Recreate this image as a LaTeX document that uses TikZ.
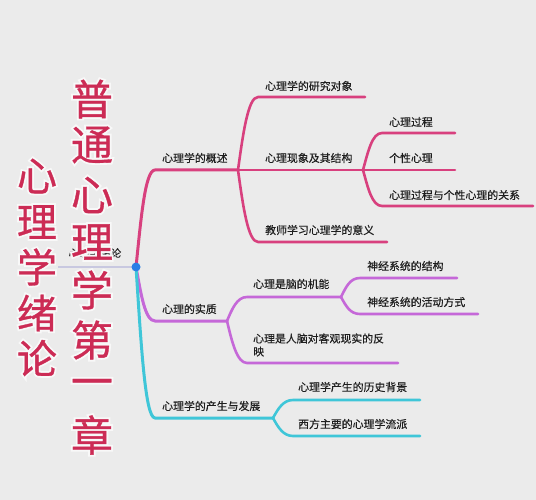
\documentclass[tikz,border=0pt]{standalone}
\usepackage{fontspec}
\setmainfont{Noto Sans CJK SC}
\newfontfamily\halofont[FakeBold=10]{Noto Sans CJK SC}
\newfontfamily\titlefont[FakeBold=0.8]{Noto Sans CJK SC}
\newfontfamily\lblfont[FakeBold=0.3]{Noto Sans CJK SC}
\definecolor{bg}{HTML}{EBEBEB}
\definecolor{halc}{HTML}{F8F8F8}
\definecolor{pinkc}{HTML}{D8407E}
\definecolor{purpc}{HTML}{C568D8}
\definecolor{cyanc}{HTML}{3FC6D8}
\definecolor{lavc}{HTML}{C8C8E0}
\definecolor{dotc}{HTML}{2A7FE6}
\definecolor{titlec}{HTML}{CC2B55}
\definecolor{txtc}{HTML}{1E1E1E}
\tikzset{
  lbl/.style={anchor=west, inner sep=0pt, text=txtc, font=\lblfont\fontsize{10.9pt}{13pt}\selectfont},
  pinkl/.style={draw=pinkc, line width=2.6pt, line cap=round, line join=round},
  purpl/.style={draw=purpc, line width=2.6pt, line cap=round, line join=round},
  cyanl/.style={draw=cyanc, line width=2.6pt, line cap=round, line join=round},
  bighalo/.style={inner sep=0pt, text=halc, font=\halofont\fontsize{#1}{#1}\selectfont},
  bigtxt/.style={inner sep=0pt, text=titlec, font=\titlefont\fontsize{#1}{#1}\selectfont},
}
\begin{document}
\begin{tikzpicture}[x=1pt, y=-1pt]
\fill[bg] (0,0) rectangle (536,500);
\useasboundingbox (0,0) rectangle (536,500);

% coordinates
\coordinate (R) at (136,267);
\coordinate (L0) at (58,267);
\coordinate (A1) at (155,170);
\coordinate (J1) at (238,170);
\coordinate (A2) at (155,321);
\coordinate (J2) at (227,321);
\coordinate (A3) at (155,418);
\coordinate (J3) at (273,418);
\coordinate (B1) at (258,97);  \coordinate (B1e) at (365,97);
\coordinate (J1b) at (363,170);
\coordinate (B3) at (258,242); \coordinate (B3e) at (387,242);
\coordinate (C1) at (382,133); \coordinate (C1e) at (455,133);
\coordinate (C2e) at (455,170);
\coordinate (C3) at (382,206); \coordinate (C3e) at (533,206);
\coordinate (D1) at (247,297); \coordinate (J2a) at (341,297);
\coordinate (D2) at (247,363); \coordinate (D2e) at (398,363);
\coordinate (E1) at (360,278); \coordinate (E1e) at (457,278);
\coordinate (E2) at (360,314); \coordinate (E2e) at (478,314);
\coordinate (F1) at (293,400); \coordinate (F1e) at (420,400);
\coordinate (F2) at (293,436); \coordinate (F2e) at (420,436);

% root line and (mostly hidden) root label
\draw[lavc, line width=2pt] (L0) -- (R);
\node[inner sep=0pt, text=txtc, font=\lblfont\fontsize{10.5pt}{13pt}\selectfont] (root) at (95,253) {心理学绪论};

% big title columns: halo first, then red glyphs
\foreach \c/\y in {心/176, 理/222, 学/267, 绪/313, 论/358}{
  \node[bighalo=40pt] at (37,\y) {\c};
}
\foreach \c/\y in {普/99, 通/145, 心/195, 理/242, 学/290, 第/340, 一/388, 章/435}{
  \node[bighalo=42pt] at (92,\y) {\c};
}
\foreach \c/\y [count=\i] in {心/176, 理/222, 学/267, 绪/313, 论/358}{
  \node[bigtxt=40pt] (ta\i) at (37,\y) {\c};
}
\foreach \c/\y [count=\i] in {普/99, 通/145, 心/195, 理/242, 学/290, 第/340, 一/388, 章/435}{
  \node[bigtxt=42pt] (tb\i) at (92,\y) {\c};
}

% branches
\draw[pinkl, line width=3pt] (R) .. controls +(5,-48) and +(-10,0) .. (A1) -- (J1);
\draw[pinkl] (J1) .. controls +(5,-36) and +(-10,0) .. (B1) -- (B1e);
\draw[pinkl] (J1) -- (J1b);
\draw[pinkl] (J1) .. controls +(5,36) and +(-10,0) .. (B3) -- (B3e);
\draw[pinkl] (J1b) .. controls +(5,-18) and +(-10,0) .. (C1) -- (C1e);
\draw[pinkl] (J1b) -- (C2e);
\draw[pinkl] (J1b) .. controls +(5,18) and +(-10,0) .. (C3) -- (C3e);

\draw[purpl, line width=3pt] (R) .. controls +(5,27) and +(-10,0) .. (A2) -- (J2);
\draw[purpl] (J2) .. controls +(5,-12) and +(-10,0) .. (D1) -- (J2a);
\draw[purpl] (J2) .. controls +(5,21) and +(-10,0) .. (D2) -- (D2e);
\draw[purpl] (J2a) .. controls +(5,-10) and +(-10,0) .. (E1) -- (E1e);
\draw[purpl] (J2a) .. controls +(5,9) and +(-10,0) .. (E2) -- (E2e);

\draw[cyanl, line width=3pt] (R) .. controls +(5,75) and +(-10,0) .. (A3) -- (J3);
\draw[cyanl] (J3) .. controls +(5,-9) and +(-10,0) .. (F1) -- (F1e);
\draw[cyanl] (J3) .. controls +(5,9) and +(-10,0) .. (F2) -- (F2e);

\fill[dotc] (R) circle (4.5pt);

% labels
\node[lbl] (n1) at (162,158) {心理学的概述};
\node[lbl] (n11) at (265,86) {心理学的研究对象};
\node[lbl] (n12) at (265,158) {心理现象及其结构};
\node[lbl] (n13) at (265,230) {教师学习心理学的意义};
\node[lbl] (n121) at (389,122) {心理过程};
\node[lbl] (n122) at (389,158) {个性心理};
\node[lbl] (n123) at (389,195) {心理过程与个性心理的关系};
\node[lbl] (n2) at (162,309) {心理的实质};
\node[lbl] (n21) at (253,284) {心理是脑的机能};
\node[lbl, align=left] (n22) at (253,345) {心理是人脑对客观现实的反\\映};
\node[lbl] (n211) at (367,266) {神经系统的结构};
\node[lbl] (n212) at (367,302) {神经系统的活动方式};
\node[lbl] (n3) at (162,406) {心理学的产生与发展};
\node[lbl] (n31) at (298,387) {心理学产生的历史背景};
\node[lbl] (n32) at (298,424) {西方主要的心理学流派};
\end{tikzpicture}
\end{document}
